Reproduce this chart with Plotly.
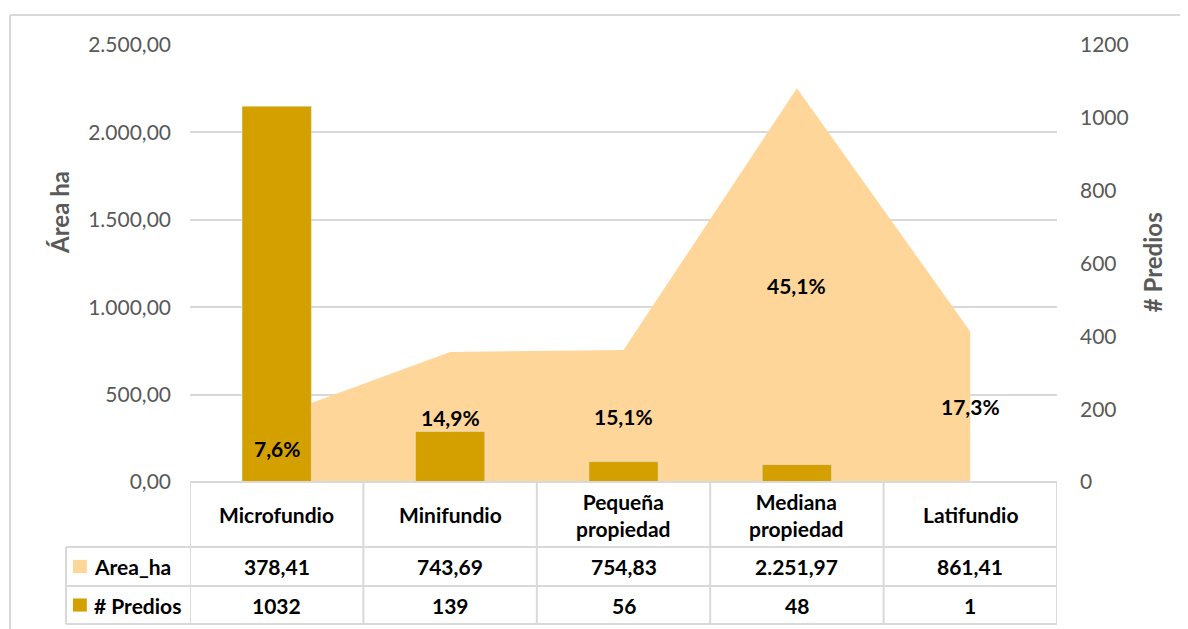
import plotly.graph_objects as go

categories = ["Microfundio", "Minifundio", "Pequeña propiedad", "Mediana propiedad", "Latifundio"]
header_labels = ["Microfundio", "Minifundio", "Pequeña<br>propiedad", "Mediana<br>propiedad", "Latifundio"]
area_ha = [378.41, 743.69, 754.83, 2251.97, 861.41]
predios = [1032, 139, 56, 48, 1]
left_ticks = [0, 500, 1000, 1500, 2000, 2500]
right_ticks = [0, 200, 400, 600, 800, 1000, 1200]

AREA_COLOR = "#FFD699"
BAR_COLOR = "#D4A000"
GRID = "#D9D9D9"
TICK_COLOR = "#595959"
FONT = "Lato, Noto Sans, sans-serif"


def fmt_es(v, dec=2):
    s = f"{v:,.{dec}f}"
    return s.replace(",", "X").replace(".", ",").replace("X", ".")


total = sum(area_ha)
pcts = [fmt_es(a / total * 100, 1) + "%" for a in area_ha]

fig = go.Figure()
fig.add_trace(go.Scatter(x=categories, y=area_ha, mode="none", fill="tozeroy",
                         fillcolor=AREA_COLOR, name="Area_ha", hoverinfo="x+y"))
fig.add_trace(go.Bar(x=categories, y=predios, yaxis="y2", marker_color=BAR_COLOR,
                     width=0.4, name="# Predios"))

# Percentage data labels (at mid-height of the area)
for c, a, p in zip(categories, area_ha, pcts):
    fig.add_annotation(x=c, y=a / 2, xref="x", yref="y", text=f"<b>{p}</b>",
                       showarrow=False, font=dict(size=21, color="black", family=FONT))

# Data table geometry (paper coords)
y_head_top = 0.0
y_head_bot = -0.149
y_row1_bot = -0.238
y_row2_bot = -0.325
x_leg_left = -0.143
line = dict(color=GRID, width=2)

shapes = []
for yy in [y_head_top, y_head_bot, y_row1_bot, y_row2_bot]:
    x0 = 0 if yy == y_head_top else x_leg_left
    shapes.append(dict(type="line", xref="paper", yref="paper", x0=x0, x1=1, y0=yy, y1=yy, line=line))
for i in range(len(categories) + 1):
    shapes.append(dict(type="line", xref="x", yref="paper", x0=i - 0.5, x1=i - 0.5,
                       y0=y_head_top, y1=y_row2_bot, line=line))
shapes.append(dict(type="line", xref="paper", yref="paper", x0=x_leg_left, x1=x_leg_left,
                   y0=y_head_bot, y1=y_row2_bot, line=line))
for (yb, yt), col in zip([(y_row1_bot, y_head_bot), (y_row2_bot, y_row1_bot)], [AREA_COLOR, BAR_COLOR]):
    ym = (yb + yt) / 2
    shapes.append(dict(type="rect", xref="paper", yref="paper", x0=-0.135, x1=-0.119,
                       y0=ym - 0.015, y1=ym + 0.015, fillcolor=col, line=dict(width=0)))
# outer chart frame
shapes.append(dict(type="line", xref="paper", yref="paper", x0=-0.2076, x1=1.2, y0=1.0686, y1=1.0686, line=line))
shapes.append(dict(type="line", xref="paper", yref="paper", x0=-0.2076, x1=-0.2076, y0=1.0686, y1=-0.4, line=line))

tfont = dict(size=21, color="black", family=FONT)
for c, h, a, n in zip(categories, header_labels, area_ha, predios):
    fig.add_annotation(x=c, y=(y_head_top + y_head_bot) / 2, xref="x", yref="paper",
                       text=f"<b>{h}</b>", showarrow=False, font=tfont, yanchor="middle")
    fig.add_annotation(x=c, y=(y_head_bot + y_row1_bot) / 2, xref="x", yref="paper",
                       text=f"<b>{fmt_es(a)}</b>", showarrow=False, font=tfont, yanchor="middle")
    fig.add_annotation(x=c, y=(y_row1_bot + y_row2_bot) / 2, xref="x", yref="paper",
                       text=f"<b>{n}</b>", showarrow=False, font=tfont, yanchor="middle")
fig.add_annotation(x=-0.113, y=(y_head_bot + y_row1_bot) / 2, xref="paper", yref="paper",
                   text="<b>Area_ha</b>", showarrow=False, font=tfont, xanchor="left", yanchor="middle")
fig.add_annotation(x=-0.113, y=(y_row1_bot + y_row2_bot) / 2, xref="paper", yref="paper",
                   text="<b># Predios</b>", showarrow=False, font=tfont, xanchor="left", yanchor="middle")

# Axis titles
fig.add_annotation(x=-0.150, y=0.618, xref="paper", yref="paper", text="<b>Área ha</b>",
                   textangle=-90, showarrow=False, xanchor="center", yanchor="middle",
                   font=dict(size=24, color=TICK_COLOR, family=FONT))
fig.add_annotation(x=1.1096, y=0.503, xref="paper", yref="paper", text="<b># Predios</b>",
                   textangle=-90, showarrow=False, xanchor="center", yanchor="middle",
                   font=dict(size=24, color=TICK_COLOR, family=FONT))

fig.update_layout(
    width=1180, height=621,
    margin=dict(l=182, r=131, t=37, b=147),
    paper_bgcolor="white", plot_bgcolor="white",
    showlegend=False,
    font=dict(family=FONT),
    shapes=shapes,
    xaxis=dict(type="category", range=[-0.5, 4.5], showticklabels=False, showgrid=False,
               zeroline=False, showline=False, fixedrange=True),
    yaxis=dict(range=[0, 2500], tickvals=left_ticks, ticktext=[fmt_es(v) for v in left_ticks],
               showgrid=True, gridcolor=GRID, gridwidth=2, zeroline=False,
               tickfont=dict(size=21, color=TICK_COLOR, family=FONT), ticklabelstandoff=18),
    yaxis2=dict(range=[0, 1200], tickvals=right_ticks, overlaying="y", side="right",
                showgrid=False, zeroline=False,
                tickfont=dict(size=21, color=TICK_COLOR, family=FONT), ticklabelstandoff=22),
)

fig.write_html("out.html")
